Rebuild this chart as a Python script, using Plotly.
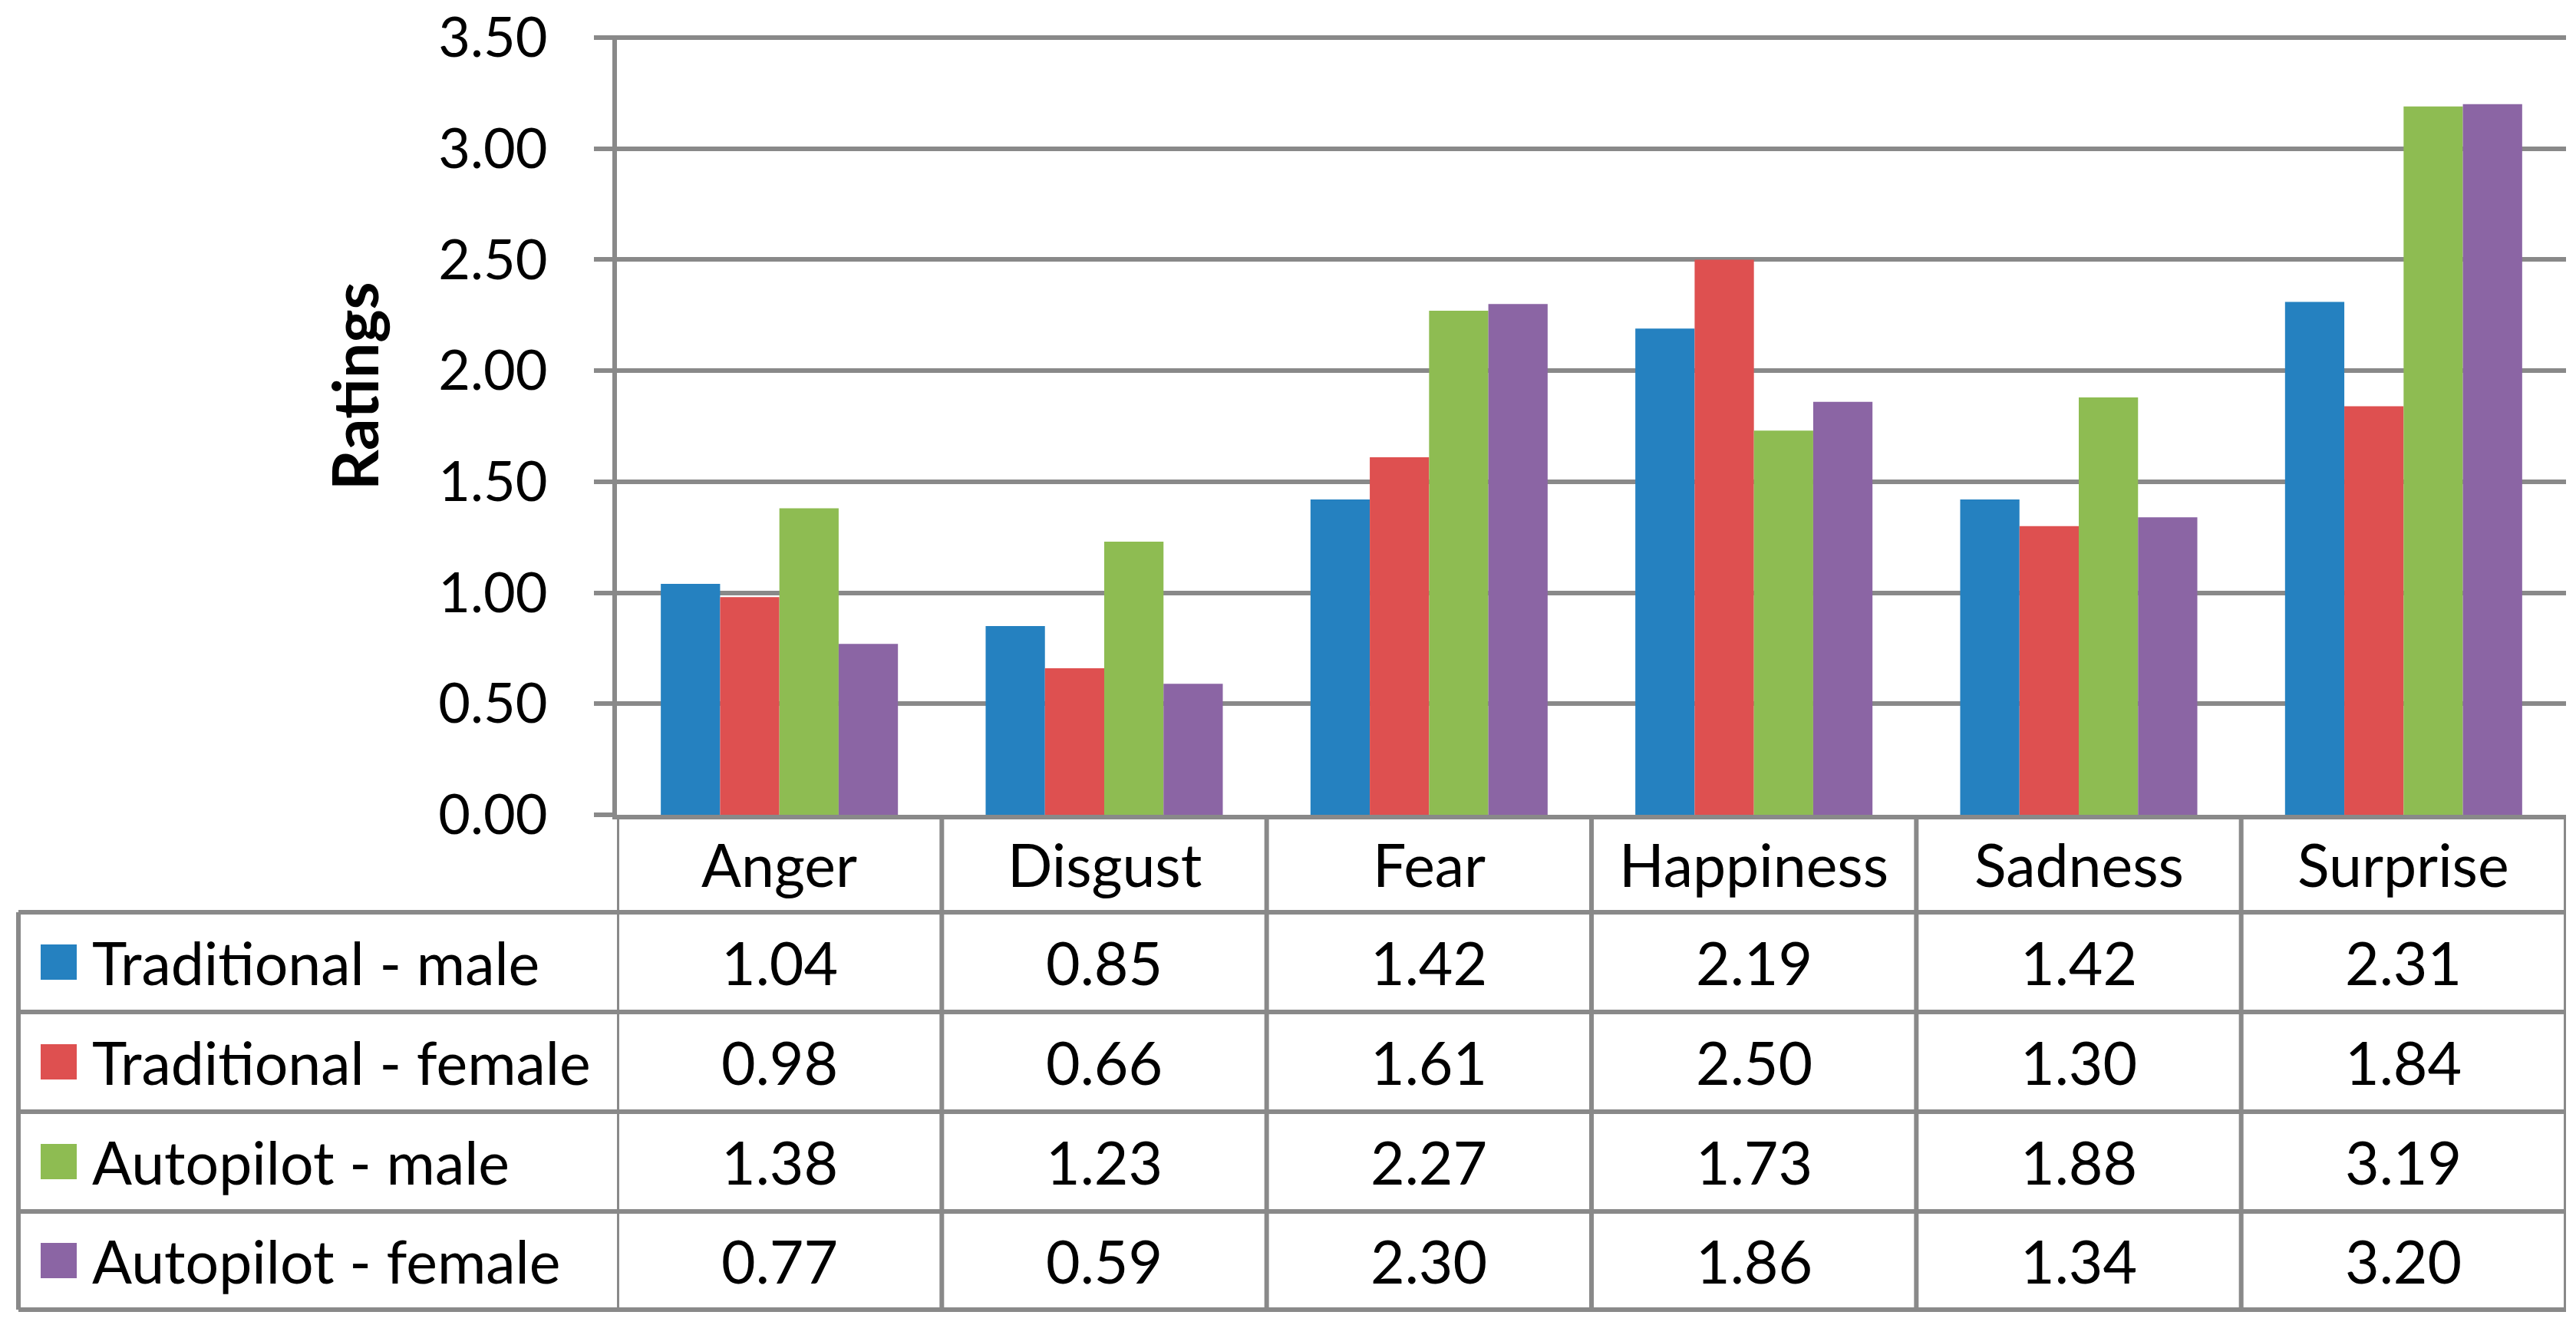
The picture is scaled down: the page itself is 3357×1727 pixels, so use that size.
import plotly.graph_objects as go

categories = ["Anger", "Disgust", "Fear", "Happiness", "Sadness", "Surprise"]
series_names = ["Traditional - male", "Traditional - female", "Autopilot - male", "Autopilot - female"]
trad_male = [1.04, 0.85, 1.42, 2.19, 1.42, 2.31]
trad_female = [0.98, 0.66, 1.61, 2.50, 1.30, 1.84]
auto_male = [1.38, 1.23, 2.27, 1.73, 1.88, 3.19]
auto_female = [0.77, 0.59, 2.30, 1.86, 1.34, 3.20]
y_ticks = [0.0, 0.5, 1.0, 1.5, 2.0, 2.5, 3.0, 3.5]

series_values = [trad_male, trad_female, auto_male, auto_female]
colors = ["#2581c0", "#de5050", "#8ebc52", "#8b65a4"]

W, H = 3357, 1727
FONT = "Lato"
FS = 77
TICK_FS = 72
LINE = "#898989"
LW = 6


def px(x):
    return x / W


def py(y):
    return 1 - y / H


plot_left, plot_right = 804, 3344
y_top_val, y_bottom = 49, 1062
y_max = 3.51
unit = (y_bottom - y_top_val) / 3.5
plot_top = y_bottom - unit * y_max
row_edges = [1062, 1189, 1319, 1449, 1579, 1707]
table_left = 24

fig = go.Figure()
for name, vals, col in zip(series_names, series_values, colors):
    fig.add_trace(go.Bar(x=categories, y=vals, name=name, marker_color=col,
                         marker_line_width=0, showlegend=False))

shapes = []
for y in row_edges[1:]:
    shapes.append(dict(type="line", xref="paper", yref="paper",
                       x0=px(table_left), x1=px(plot_right), y0=py(y), y1=py(y),
                       line=dict(color=LINE, width=LW)))
shapes.append(dict(type="line", xref="paper", yref="paper",
                   x0=px(table_left), x1=px(table_left), y0=py(row_edges[1]), y1=py(row_edges[-1]),
                   line=dict(color=LINE, width=LW)))
for i in range(len(categories) + 1):
    shapes.append(dict(type="line", xref="x", yref="paper",
                       x0=i - 0.5, x1=i - 0.5, y0=py(row_edges[0]), y1=py(row_edges[-1]),
                       line=dict(color=LINE, width=LW)))
for r in range(4):
    cy = (row_edges[r + 1] + row_edges[r + 2]) / 2
    shapes.append(dict(type="rect", xref="paper", yref="paper",
                       x0=px(53), x1=px(100), y0=py(cy + 23), y1=py(cy - 23),
                       fillcolor=colors[r], line=dict(width=0)))

annotations = []
hc = (row_edges[0] + row_edges[1]) / 2
for c in categories:
    annotations.append(dict(x=c, xref="x", y=py(hc), yref="paper", text=c,
                            showarrow=False, xanchor="center", yanchor="middle",
                            font=dict(family=FONT, size=FS, color="black")))
for r, (name, vals) in enumerate(zip(series_names, series_values)):
    cy = (row_edges[r + 1] + row_edges[r + 2]) / 2
    annotations.append(dict(x=px(118), xref="paper", y=py(cy), yref="paper", text=name,
                            showarrow=False, xanchor="left", yanchor="middle",
                            font=dict(family=FONT, size=FS, color="black")))
    for c, v in zip(categories, vals):
        annotations.append(dict(x=c, xref="x", y=py(cy), yref="paper", text=f"{v:.2f}",
                                showarrow=False, xanchor="center", yanchor="middle",
                                font=dict(family=FONT, size=FS, color="black")))
annotations.append(dict(x=px(461), xref="paper", y=py(504), yref="paper", text="<b>Ratings</b>",
                        showarrow=False, textangle=-90, xanchor="center", yanchor="middle",
                        font=dict(family=FONT, size=82, color="black")))

fig.update_layout(
    width=W, height=H, autosize=False,
    margin=dict(l=0, r=0, t=0, b=0, pad=0, autoexpand=False),
    paper_bgcolor="white", plot_bgcolor="white",
    barmode="group", bargap=0.27, bargroupgap=0,
    shapes=shapes, annotations=annotations,
    xaxis=dict(domain=[px(plot_left), px(plot_right)], showticklabels=False, automargin=False,
               showgrid=False, showline=True, linecolor=LINE, linewidth=LW,
               ticks="", zeroline=False, range=[-0.5, len(categories) - 0.5]),
    yaxis=dict(domain=[py(y_bottom), py(plot_top)], range=[0, y_max], automargin=False,
               tickvals=y_ticks, tickformat=".2f", showgrid=True, gridcolor=LINE,
               gridwidth=LW, showline=True, linecolor=LINE, linewidth=LW,
               ticks="outside", ticklen=24, tickwidth=LW, tickcolor=LINE,
               ticklabelstandoff=46, ticklabeloverflow="allow", zeroline=False,
               tickfont=dict(family=FONT, size=TICK_FS, color="black")),
)

post = ("document.documentElement.style.margin='0';document.body.style.margin='0';"
        "document.body.style.padding='0';document.documentElement.style.overflow='hidden';"
        "document.body.style.overflow='hidden';")
fig.write_html("out.html", post_script=post,
               config={"displayModeBar": False, "responsive": False})
